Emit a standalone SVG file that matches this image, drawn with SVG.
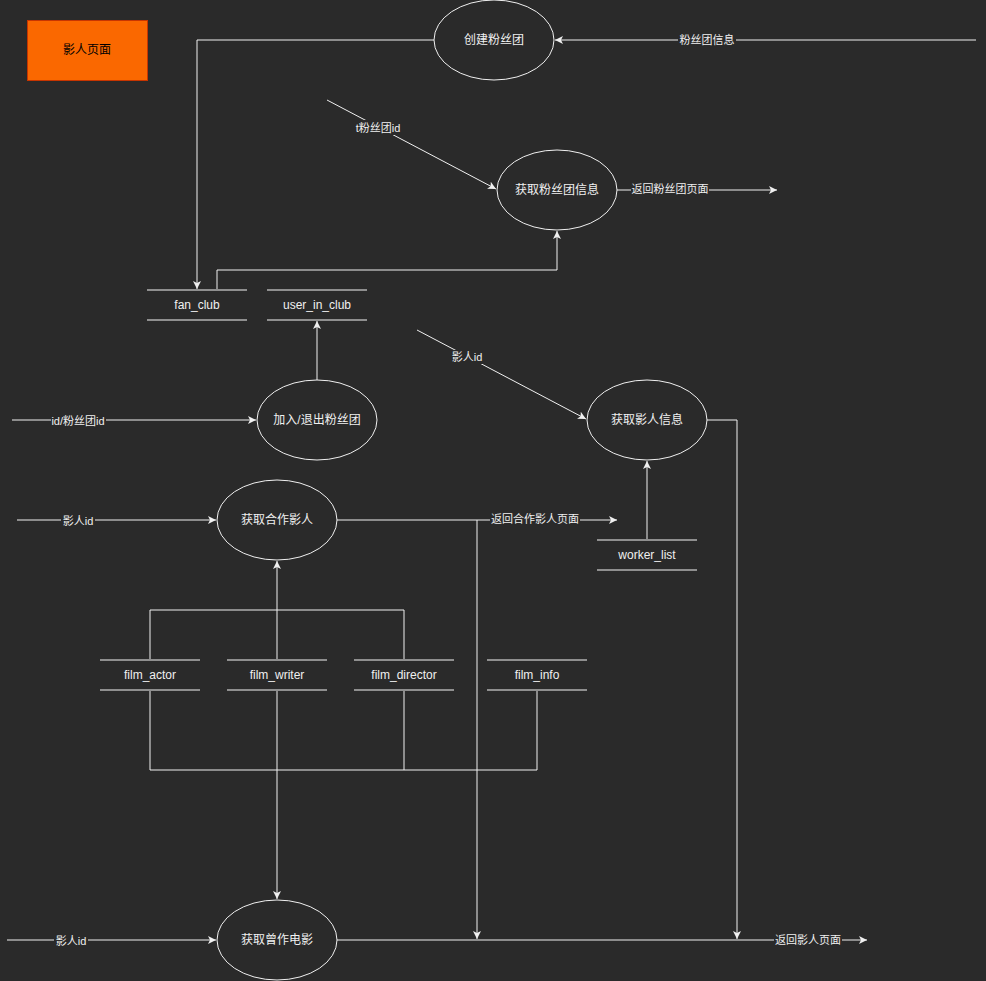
<svg xmlns="http://www.w3.org/2000/svg" width="986" height="981" viewBox="0 0 986 981">
<defs>
<style>
.t{font-family:"Liberation Sans","Noto Sans CJK SC",sans-serif;fill:#f0f0f0;text-anchor:middle;dominant-baseline:central}
.n{font-size:12px}
.l{font-size:11px}
.e{fill:none;stroke:#f0f0f0;stroke-width:1}
.c{fill:none;stroke:#f0f0f0;stroke-width:1}
.s{stroke:#8f8f8f;stroke-width:2}
.bg{fill:#2a2a2a}
</style>
<marker id="arr" markerWidth="10" markerHeight="10" refX="8" refY="4" orient="auto" markerUnits="userSpaceOnUse">
<path d="M0,0 L8,4 L0,8 L2,4 z" fill="#f0f0f0"/>
</marker>
</defs>
<rect width="986" height="981" fill="#2a2a2a"/>

<g id="legend">
<rect x="27.5" y="20.5" width="120" height="60" fill="#fa6800" stroke="#c73500"/>
<text class="t n" x="87" y="50" style="fill:#000">影人页面</text>
</g>

<g id="connectors">
<path class="c" d="M976,40 L555,40" marker-end="url(#arr)"/>
<path class="c" d="M434,40 L197,40 L197,289" marker-end="url(#arr)"/>
<path class="c" d="M327,100 L496,189" marker-end="url(#arr)"/>
<path class="c" d="M617,190 L777,190" marker-end="url(#arr)"/>
<path class="c" d="M217,290 L217,270 L557,270 L557,231" marker-end="url(#arr)"/>
<path class="c" d="M317,380 L317,321" marker-end="url(#arr)"/>
<path class="c" d="M12,420 L256,420" marker-end="url(#arr)"/>
<path class="c" d="M417,330 L586,419" marker-end="url(#arr)"/>
<path class="c" d="M647,540 L647,461" marker-end="url(#arr)"/>
<path class="c" d="M707,420 L737,420 L737,939" marker-end="url(#arr)"/>
<path class="c" d="M17,520 L216,520" marker-end="url(#arr)"/>
<path class="c" d="M337,520 L617,520" marker-end="url(#arr)"/>
<path class="c" d="M477,520 L477,939" marker-end="url(#arr)"/>
<path class="c" d="M277,660 L277,561" marker-end="url(#arr)"/>
<path class="c" d="M150,660 L150,610 L404,610 L404,660"/>
<path class="c" d="M277,690 L277,899" marker-end="url(#arr)"/>
<path class="c" d="M150,690 L150,770 L537,770 L537,690"/>
<path class="c" d="M404,690 L404,770"/>
<path class="c" d="M7,940 L216,940" marker-end="url(#arr)"/>
<path class="c" d="M337,940 L867,940" marker-end="url(#arr)"/>

<rect class="bg" x="678" y="33" width="58" height="14"/>
<text class="t l" x="707" y="40">粉丝团信息</text>
<rect class="bg" x="631" y="182" width="78" height="14"/>
<text class="t l" x="670" y="189">返回粉丝团页面</text>
<rect class="bg" x="354" y="120" width="48" height="15"/>
<text class="t l" x="378" y="128">t粉丝团id</text>
<rect class="bg" x="51" y="414" width="55" height="14"/>
<text class="t l" x="78" y="421">id/粉丝团id</text>
<rect class="bg" x="451" y="350" width="33" height="14"/>
<text class="t l" x="467" y="357">影人id</text>
<rect class="bg" x="61" y="514" width="34" height="14"/>
<text class="t l" x="78" y="521">影人id</text>
<rect class="bg" x="490" y="512" width="90" height="14"/>
<text class="t l" x="535" y="519">返回合作影人页面</text>
<rect class="bg" x="54" y="934" width="34" height="14"/>
<text class="t l" x="71" y="941">影人id</text>
<rect class="bg" x="774" y="933" width="68" height="14"/>
<text class="t l" x="808" y="940">返回影人页面</text>
</g>

<g id="create-club">
<ellipse class="e" cx="494" cy="40" rx="60" ry="40"/>
<text class="t n" x="494" y="40">创建粉丝团</text>
</g>
<g id="get-club-info">
<ellipse class="e" cx="557" cy="190" rx="60" ry="40"/>
<text class="t n" x="557" y="190">获取粉丝团信息</text>
</g>
<g id="join-club">
<ellipse class="e" cx="317" cy="420" rx="60" ry="40"/>
<text class="t n" x="317" y="420">加入/退出粉丝团</text>
</g>
<g id="get-worker-info">
<ellipse class="e" cx="647" cy="420" rx="60" ry="40"/>
<text class="t n" x="647" y="420">获取影人信息</text>
</g>
<g id="get-partners">
<ellipse class="e" cx="277" cy="520" rx="60" ry="40"/>
<text class="t n" x="277" y="520">获取合作影人</text>
</g>
<g id="get-films">
<ellipse class="e" cx="277" cy="940" rx="60" ry="40"/>
<text class="t n" x="277" y="940">获取曾作电影</text>
</g>

<g id="fan_club">
<line class="s" x1="147" y1="290" x2="247" y2="290"/>
<line class="s" x1="147" y1="320" x2="247" y2="320"/>
<text class="t n" x="197" y="305">fan_club</text>
</g>
<g id="user_in_club">
<line class="s" x1="267" y1="290" x2="367" y2="290"/>
<line class="s" x1="267" y1="320" x2="367" y2="320"/>
<text class="t n" x="317" y="305">user_in_club</text>
</g>
<g id="worker_list">
<line class="s" x1="597" y1="540" x2="697" y2="540"/>
<line class="s" x1="597" y1="570" x2="697" y2="570"/>
<text class="t n" x="647" y="555">worker_list</text>
</g>
<g id="film_actor">
<line class="s" x1="100" y1="660" x2="200" y2="660"/>
<line class="s" x1="100" y1="690" x2="200" y2="690"/>
<text class="t n" x="150" y="675">film_actor</text>
</g>
<g id="film_writer">
<line class="s" x1="227" y1="660" x2="327" y2="660"/>
<line class="s" x1="227" y1="690" x2="327" y2="690"/>
<text class="t n" x="277" y="675">film_writer</text>
</g>
<g id="film_director">
<line class="s" x1="354" y1="660" x2="454" y2="660"/>
<line class="s" x1="354" y1="690" x2="454" y2="690"/>
<text class="t n" x="404" y="675">film_director</text>
</g>
<g id="film_info">
<line class="s" x1="487" y1="660" x2="587" y2="660"/>
<line class="s" x1="487" y1="690" x2="587" y2="690"/>
<text class="t n" x="537" y="675">film_info</text>
</g>
</svg>
